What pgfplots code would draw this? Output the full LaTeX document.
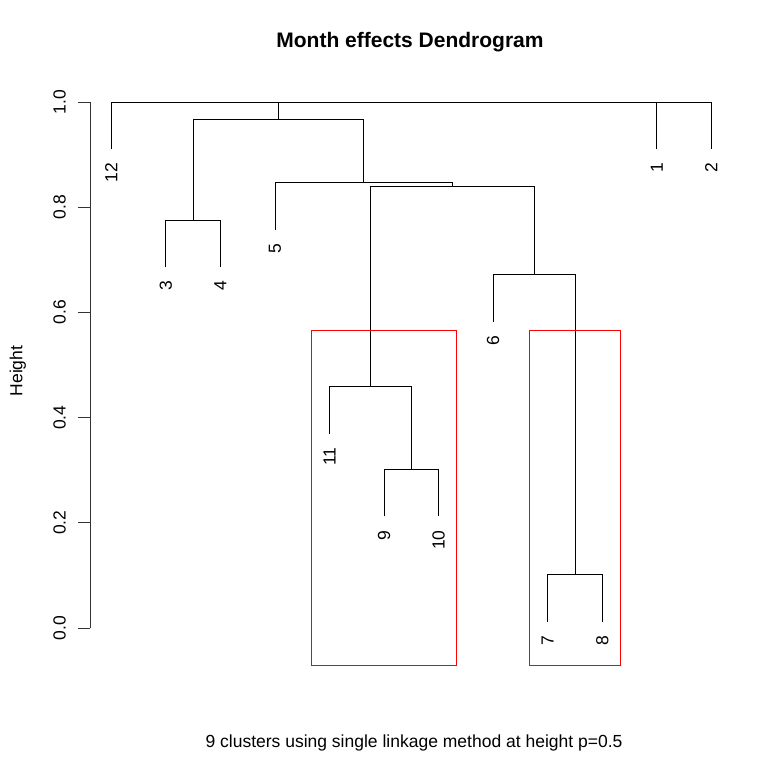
\documentclass[border=0pt]{standalone}
\usepackage{fontspec}
\setmainfont{Liberation Sans}
\usepackage{pgfplots}
\pgfplotsset{compat=1.18}
\begin{document}
\fontsize{17.5}{21}\selectfont
\begin{tikzpicture}
\useasboundingbox (-90pt,-130pt) rectangle (691pt,628pt);
\begin{axis}[
  scale only axis,
  width=643.2pt, height=526pt,
  xmin=0.6095, xmax=12.4,
  ymin=0, ymax=1,
  clip=false,
  axis x line=none,
  axis y line=left,
  y axis line style={-, line width=0.9pt, black!80},
  ytick={0,0.2,0.4,0.6,0.8,1.0},
  yticklabels={0.0,0.2,0.4,0.6,0.8,1.0},
  tick align=outside,
  major tick length=12pt,
  ytick style={line width=0.9pt, black!80},
  yticklabel style={rotate=90, anchor=south, inner sep=0pt, yshift=12pt},
  every axis plot/.append style={line width=0.9pt},
]
% dendrogram segments
\addplot[black, mark=none] coordinates {(1,0.9101) (1,1.0) (4.0625,1.0) (4.0625,0.966)};
\addplot[black, mark=none] coordinates {(11,0.9101) (11,1.0) (12,1.0) (12,0.9101)};
\addplot[black, mark=none] coordinates {(2.53125,1.0) (11.5,1.0)};
\addplot[black, mark=none] coordinates {(2.5,0.7757) (2.5,0.966) (5.625,0.966) (5.625,0.847)};
\addplot[black, mark=none] coordinates {(2,0.6858) (2,0.7757) (3,0.7757) (3,0.6858)};
\addplot[black, mark=none] coordinates {(4,0.7571) (4,0.847) (7.25,0.847) (7.25,0.839)};
\addplot[black, mark=none] coordinates {(5.75,0.459) (5.75,0.839) (8.75,0.839) (8.75,0.6724)};
\addplot[black, mark=none] coordinates {(5,0.3691) (5,0.459) (6.5,0.459) (6.5,0.302)};
\addplot[black, mark=none] coordinates {(6,0.2121) (6,0.302) (7,0.302) (7,0.2121)};
\addplot[black, mark=none] coordinates {(8,0.5825) (8,0.6724) (9.5,0.6724) (9.5,0.101)};
\addplot[black, mark=none] coordinates {(9,0.0111) (9,0.101) (10,0.101) (10,0.0111)};
% cluster rectangles
\addplot[red, mark=none] coordinates {(4.66,-0.0703) (7.33,-0.0703) (7.33,0.5665) (4.66,0.5665) (4.66,-0.0703)};
\addplot[red, mark=none] coordinates {(8.66,-0.0703) (10.33,-0.0703) (10.33,0.5665) (8.66,0.5665) (8.66,-0.0703)};
% leaf labels
\addplot[draw=none, mark=none, nodes near coords, point meta=explicit symbolic,
  nodes near coords style={rotate=90, anchor=east, inner sep=0pt, black}]
  table[meta=label] {
x y label
1 0.8844 12
2 0.6601 3
3 0.6601 4
4 0.7314 5
5 0.3434 11
6 0.1864 9
7 0.1864 10
8 0.5568 6
9 -0.0146 7
10 -0.0146 8
11 0.8844 1
12 0.8844 2
};
\end{axis}
\node[anchor=base, font=\fontsize{21}{25}\selectfont\bfseries] at (320pt,580pt) {Month effects Dendrogram};
\node[anchor=base] at (324pt,-119pt) {9 clusters using single linkage method at height p=0.5};
\node[anchor=base, rotate=90] at (-67.5pt,257pt) {Height};
\end{tikzpicture}
\end{document}
